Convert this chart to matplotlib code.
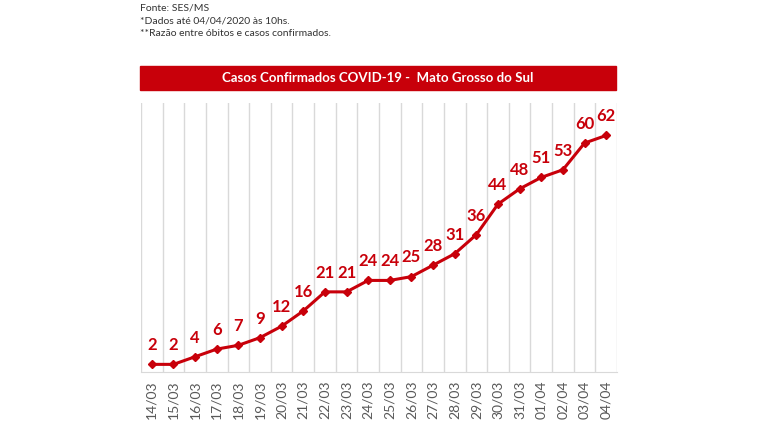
import matplotlib
matplotlib.use("Agg")
import matplotlib.pyplot as plt
from matplotlib.patches import Rectangle

plt.rcParams['font.family'] = ['Lato', 'DejaVu Sans']

datas = ["14/03", "15/03", "16/03", "17/03", "18/03", "19/03", "20/03", "21/03",
         "22/03", "23/03", "24/03", "25/03", "26/03", "27/03", "28/03", "29/03",
         "30/03", "31/03", "01/04", "02/04", "03/04", "04/04"]
casos = [2, 2, 4, 6, 7, 9, 12, 16, 21, 21, 24, 24, 25, 28, 31, 36, 44, 48, 51, 53, 60, 62]

vermelho = "#C8000A"

fig = plt.figure(figsize=(7.68, 4.32), dpi=100)

# notas no topo
notas = ["Fonte: SES/MS", "*Dados até 04/04/2020 às 10hs.", "**Razão entre óbitos e casos confirmados."]
for i, t in enumerate(notas):
    fig.text(140 / 768, 1 - (8 + 12.5 * i) / 432, t, fontsize=7.5, color="#333333", va="center")

# faixa do titulo
fig.patches.append(Rectangle((140 / 768, 1 - 90 / 432), 476 / 768, 24 / 432,
                             transform=fig.transFigure, color=vermelho, zorder=0))
fig.text(378 / 768, 1 - 78 / 432, "Casos Confirmados COVID-19 -  Mato Grosso do Sul",
         fontsize=9.5, fontweight="bold", color="white", ha="center", va="center")

ax = fig.add_axes([141 / 768, 1 - 372 / 432, 476 / 768, 269 / 432])
x = list(range(len(datas)))
ax.plot(x, casos, color=vermelho, lw=2.2, marker="D", markersize=4.5)
for xi, v in zip(x, casos):
    ax.annotate(str(v), (xi, v), xytext=(0, 8), textcoords="offset points",
                ha="center", va="bottom", fontsize=12, fontweight="bold", color=vermelho)

ax.set_xlim(-0.5, len(datas) - 0.5)
ax.set_ylim(0, 70.5)
ax.set_xticks(x)
ax.set_xticklabels(datas, rotation=90, fontsize=10, color="#595959")
ax.set_xticks([i - 0.5 for i in range(len(datas) + 1)], minor=True)
ax.grid(True, which="minor", axis="x", color="#D9D9D9", lw=1)
ax.tick_params(axis="x", which="both", length=0, pad=6)
ax.set_yticks([])
for s in ["top", "right", "left"]:
    ax.spines[s].set_visible(False)
ax.spines["bottom"].set_color("#D9D9D9")

fig.savefig("out.png", dpi=100)
